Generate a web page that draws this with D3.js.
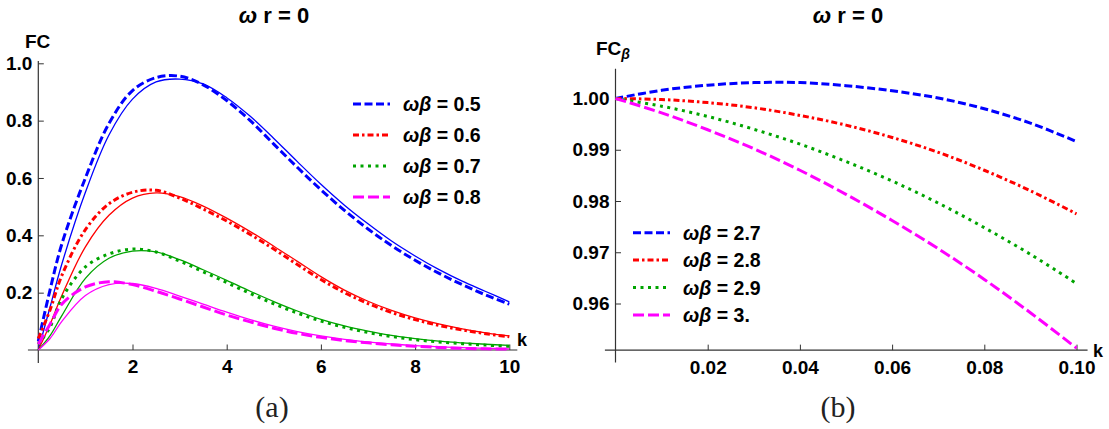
<!DOCTYPE html>
<html lang="en">
<head>
<meta charset="UTF-8">
<title>FC</title>
<script src="https://cdn.jsdelivr.net/npm/d3@7"></script>
<style>
body{margin:0;background:#fff}
.tick line{stroke:#333}
</style>
</head>
<body>
<div class="chart"></div>
<script>
// panel (a): FC against k
let kA=[0,0.25,0.5,1,1.5,2,2.5,3,3.5,4,4.5,5,5.5,6,6.5,7,7.5,8,8.5,9,9.5,10]
let blueDash=[0.03,0.21,0.37,0.60,0.79,0.905,0.95,0.955,0.925,0.87,0.80,0.718,0.637,0.559,0.487,0.422,0.364,0.313,0.268,0.228,0.192,0.16]
let blueSolid=[0,0.15,0.30,0.55,0.75,0.875,0.935,0.945,0.928,0.88,0.815,0.738,0.657,0.578,0.505,0.44,0.38,0.328,0.281,0.24,0.204,0.168]
let redDash=[0.04,0.14,0.26,0.42,0.51,0.55,0.557,0.53,0.492,0.45,0.403,0.352,0.298,0.246,0.20,0.162,0.131,0.106,0.086,0.07,0.057,0.046]
let redSolid=[0,0.09,0.19,0.36,0.47,0.53,0.548,0.535,0.502,0.46,0.413,0.362,0.309,0.256,0.209,0.17,0.138,0.112,0.091,0.074,0.06,0.049]
let greenDot=[0.02,0.08,0.18,0.29,0.335,0.352,0.342,0.31,0.273,0.235,0.197,0.161,0.129,0.101,0.079,0.061,0.047,0.036,0.028,0.022,0.017,0.013]
let greenSolid=[0,0.05,0.12,0.25,0.32,0.345,0.342,0.315,0.28,0.243,0.205,0.169,0.136,0.107,0.084,0.066,0.051,0.04,0.031,0.025,0.02,0.016]
let magDash=[0.02,0.09,0.16,0.22,0.238,0.228,0.205,0.178,0.15,0.122,0.098,0.076,0.058,0.044,0.033,0.025,0.018,0.013,0.009,0.006,0.004,0.003]
let magSolid=[0,0.04,0.10,0.19,0.228,0.232,0.215,0.188,0.16,0.132,0.106,0.083,0.064,0.049,0.037,0.028,0.021,0.015,0.011,0.008,0.006,0.004]
let legendA=['0.5','0.6','0.7','0.8']
let xTicksA=[2,4,6,8,10]
let yTicksA=[0.2,0.4,0.6,0.8,1.0]

// panel (b): FC_beta against k
let kB=[0,0.01,0.02,0.03,0.04,0.05,0.06,0.07,0.08,0.09,0.10]
let fc27=[1.0,1.0016,1.0026,1.0031,1.0031,1.0025,1.0015,1.0001,0.9980,0.9952,0.9916]
let fc28=[1.0,0.9998,0.9992,0.9982,0.9967,0.9948,0.9924,0.9895,0.9860,0.9820,0.9775]
let fc29=[1.0,0.9985,0.9965,0.9940,0.9911,0.9877,0.9839,0.9796,0.9748,0.9696,0.9639]
let fc30=[1.0,0.9972,0.9939,0.9902,0.9860,0.9813,0.9762,0.9707,0.9647,0.9582,0.9513]
let legendB=['2.7','2.8','2.9','3.']
let xTicksB=[0.02,0.04,0.06,0.08,0.10]
let yTicksB=[0.96,0.97,0.98,0.99,1.00]

let colors=['#0000ff','#ff0000','#00a400','#ff00ff']
let dashes=['8,3.5','6,3,2.5,3','3,4.5','11,4']
let sans='"Liberation Sans",Arial,sans-serif'

let svg=d3.select('.chart').append('svg').attr('width',1109).attr('height',429)
svg.append('rect').attr('width',1109).attr('height',429).attr('fill','#fff')

function label(x,y,size){
    return svg.append('text').attr('x',x).attr('y',y)
        .style('font-family',sans).style('font-weight','bold').style('font-size',size+'px').style('fill','#000')
}

function axes(x,y,xMaj,xMin,yMaj,yMin,xFmt,yFmt,xEnds,yEnds,yCross){
    let gx=svg.append('g').attr('transform','translate(0,'+y(yCross)+')')
    gx.call(d3.axisBottom(x).tickValues(xMin).tickSize(-3).tickFormat(''))
    gx.call(d3.axisBottom(x).tickValues(xMaj).tickSize(-5.5).tickPadding(10).tickFormat(xFmt))
    let gy=svg.append('g').attr('transform','translate('+x(0)+',0)')
    gy.call(d3.axisLeft(y).tickValues(yMin).tickSize(-3).tickFormat(''))
    gy.call(d3.axisLeft(y).tickValues(yMaj).tickSize(-5.5).tickPadding(6).tickFormat(yFmt))
    svg.selectAll('.domain').remove()
    svg.selectAll('.tick text').style('font-size','19px').style('font-family',sans).style('font-weight','bold').style('fill','#000')
    svg.append('line').attr('x1',x(xEnds[0])).attr('x2',x(xEnds[1])).attr('y1',y(yCross)).attr('y2',y(yCross)).attr('stroke','#333').attr('stroke-width',1.2)
    svg.append('line').attr('x1',x(0)).attr('x2',x(0)).attr('y1',y(yEnds[0])).attr('y2',y(yEnds[1])).attr('stroke','#333').attr('stroke-width',1.2)
}

function title(cx){
    let t=label(cx,23,22).attr('text-anchor','middle')
    t.append('tspan').style('font-style','italic').text('ω')
    t.append('tspan').text(' r = 0')
}

function legend(x0,y0,step,vals,width){
    vals.forEach((v,i)=>{
        let yy=y0+i*step
        svg.append('line').attr('x1',x0).attr('x2',x0+width).attr('y1',yy).attr('y2',yy)
            .attr('stroke',colors[i]).attr('stroke-width',3).attr('stroke-dasharray',dashes[i])
        let t=label(x0+width+13,yy+7,19.5)
        t.append('tspan').style('font-style','italic').text('ωβ')
        t.append('tspan').text(' = '+v)
    })
}

function caption(cx,txt){
    svg.append('text').attr('x',cx).attr('y',417).attr('text-anchor','middle')
        .style('font-family','"Liberation Serif","DejaVu Serif",serif').style('font-weight','normal').style('font-size','30px').style('fill','#222').text(txt)
}

// ---- panel (a)
let xA=d3.scaleLinear().domain([0,10]).range([38.3,509.3])
let yA=d3.scaleLinear().domain([0,1]).range([350,63.3])
axes(xA,yA,xTicksA,d3.range(0.5,10.01,0.5).filter(v=>v%2!=0),yTicksA,d3.range(0.05,1.001,0.05).filter(v=>Math.abs(v*5-Math.round(v*5))>0.01),
    d=>d,d=>d.toFixed(1),[-0.22,10.17],[-0.045,1.008],0)
let lineA=d3.line().x((d,i)=>xA(kA[i])).y(d=>yA(d)).curve(d3.curveCatmullRom.alpha(0.5))
let solidsA=[blueSolid,redSolid,greenSolid,magSolid]
let dashedA=[blueDash,redDash,greenDot,magDash]
solidsA.forEach((s,i)=>svg.append('path').attr('d',lineA(s)).attr('fill','none').attr('stroke',colors[i]).attr('stroke-width',1.3))
dashedA.forEach((s,i)=>svg.append('path').attr('d',lineA(s)).attr('fill','none').attr('stroke',colors[i]).attr('stroke-width',3).attr('stroke-dasharray',dashes[i]))
title(274)
label(25,48,19).text('FC')
label(517,346,18).text('k')
legend(353,104,31,legendA,37)
caption(272,'(a)')

// ---- panel (b)
let xB=d3.scaleLinear().domain([0,0.1]).range([615.5,1076.5])
let yB=d3.scaleLinear().domain([0.96,1.0]).range([303.5,98.5])
axes(xB,yB,xTicksB,d3.range(0.005,0.1001,0.005).filter(v=>Math.abs(v*50-Math.round(v*50))>0.01),
    yTicksB,d3.range(0.952,1.0059,0.002).filter(v=>Math.abs(v*100-Math.round(v*100))>0.01),
    d=>d.toFixed(2),d=>d.toFixed(2),[-0.0023,0.1024],[0.9485,1.0058],0.9509)
let lineB=d3.line().x((d,i)=>xB(kB[i])).y(d=>yB(d)).curve(d3.curveCatmullRom.alpha(0.5))
;[fc27,fc28,fc29,fc30].forEach((s,i)=>svg.append('path').attr('d',lineB(s)).attr('fill','none').attr('stroke',colors[i]).attr('stroke-width',3).attr('stroke-dasharray',dashes[i]))
title(848)
let fcb=label(596,55,19)
fcb.append('tspan').text('FC')
fcb.append('tspan').style('font-style','italic').style('font-size','14px').attr('dy',4).text('β')
label(1093,357,18).text('k')
legend(633,232.7,27.4,legendB,37)
caption(838,'(b)')
</script>
</body>
</html>
